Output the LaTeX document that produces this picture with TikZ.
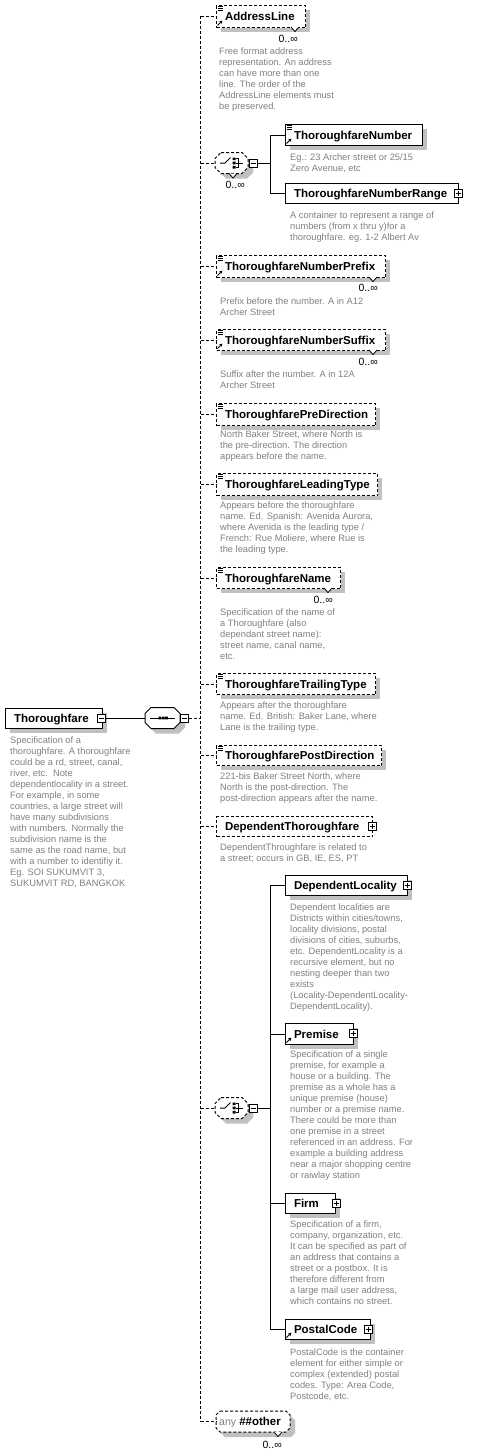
\documentclass[tikz,border=0pt]{standalone}
\usepackage{fontspec}
\setmainfont{Liberation Sans}
\usetikzlibrary{arrows.meta}
\definecolor{descgray}{RGB}{128,128,128}
\definecolor{shgray}{RGB}{192,192,192}
\newcommand{\elfont}{\fontsize{11.5}{13}\selectfont\bfseries\hyphenpenalty=10000\relax}
\newcommand{\descfont}{\fontsize{9.3}{11}\selectfont}
\newcommand{\multfont}{\fontsize{10.5}{12}\selectfont}
\tikzset{
  elbox/.style={draw=black, line width=1pt, fill=white, inner xsep=8.5pt, inner ysep=0pt, anchor=north west, align=left, font=\elfont, text height=8.5pt, text depth=0.5pt},
  opt/.style={dash pattern=on 3pt off 2pt},
  conn/.style={line width=1pt, draw=black},
  desc/.style={anchor=north west, inner sep=0pt, align=left, text=descgray, font=\descfont},
  mult/.style={anchor=east, inner sep=0pt, font=\multfont, text=black},
  pmbox/.style={draw=black, line width=1pt, fill=white, minimum size=8pt, inner sep=0pt},
  hub/.style={inner sep=0pt, draw=none},
  icon/.style={line width=0.8pt, draw=black},
}
\newcommand{\elshadow}[4]{\fill[shgray] ({#1+5},{#2+5}) rectangle ({#3+5},{#4+5});}
\newcommand{\elnode}[7]{\pgfmathsetmacro{\elTW}{#4-#2-17}\pgfmathsetmacro{\elBH}{#5-#3}\node[elbox,#6,text width=\elTW pt,minimum height=\elBH pt] (#1) at (#2,#3) {#7};}
\newcommand{\docicon}[2]{\draw[icon] ({#1+1.5},{#2+1.5}) -- ++(5,0) ({#1+1.5},{#2+3.5}) -- ++(5,0) ({#1+1.5},{#2+5.5}) -- ++(5,0);}
\newcommand{\reficon}[2]{\draw[icon,-{Triangle[length=3pt,width=3pt]}] ({#1+1.5},{#2-1.5}) -- ({#1+6.5},{#2-6.5});}
\newcommand{\notch}[2]{\filldraw[fill=white,draw=black,line width=0.8pt] ({#1-4},{#2}) -- ({#1},{#2+4.5}) -- ({#1+4},{#2});}
\newcommand{\minusicon}[3]{\node[pmbox] (#1) at (#2,#3) {}; \draw[line width=1pt] ([xshift=-2.5pt]#1.center) -- ([xshift=2.5pt]#1.center);}
\newcommand{\plusicon}[3]{\node[pmbox] (#1) at (#2,#3) {}; \draw[line width=1pt] ([xshift=-2.5pt]#1.center) -- ([xshift=2.5pt]#1.center) ([yshift=-2.5pt]#1.center) -- ([yshift=2.5pt]#1.center);}
\newcommand{\compshape}[6]{\path[#6] ({#1-#3/2+#5},{#2-#4/2}) -- ({#1+#3/2-#5},{#2-#4/2}) -- ({#1+#3/2},{#2-#4/2+#5}) -- ({#1+#3/2},{#2+#4/2-#5}) -- ({#1+#3/2-#5},{#2+#4/2}) -- ({#1-#3/2+#5},{#2+#4/2}) -- ({#1-#3/2},{#2+#4/2-#5}) -- ({#1-#3/2},{#2-#4/2+#5}) -- cycle;}
\newcommand{\choicesym}[2]{%
  \draw[line width=1pt] ({#1-11.5},{#2}) -- ({#1-6.5},{#2}) -- ({#1-1},{#2-5.5});
  \fill ({#1+1},{#2-5.5}) rectangle ++(3,2.6) ({#1+1},{#2-1.3}) rectangle ++(3,2.6) ({#1+1},{#2+2.9}) rectangle ++(3,2.6);
  \draw[line width=1pt] ({#1+4},{#2-4.2}) -- ({#1+7},{#2-4.2}) -- ({#1+7},{#2+4.2}) -- ({#1+4},{#2+4.2}) ({#1+4},{#2}) -- ({#1+11},{#2});}
\begin{document}
\begin{tikzpicture}[x=1pt,y=-1pt]
\useasboundingbox (0,0) rectangle (480,1454);

% ---------- root ----------
\elshadow{5}{708}{102}{728}
\elnode{root}{5}{708}{102}{728}{}{Thoroughfare}
\minusicon{rootm}{101.5}{718}
\node[desc] (rootd) at (10,735.6) {\strut Specification of a\\thoroughfare. A thoroughfare\\could be a rd, street, canal,\\river, etc.\ \ Note\\dependentlocality in a street.\\For example, in some\\countries, a large street will\\have many subdivisions\\with numbers. Normally the\\subdivision name is the\\same as the road name, but\\with a number to identifiy it.\\Eg. SOI SUKUMVIT 3,\\SUKUMVIT RD, BANGKOK};

% ---------- sequence ----------
\compshape{167.5}{723}{35}{21}{6}{fill=shgray}
\compshape{162.5}{718}{35}{21}{6}{fill=white,draw=black,line width=1pt}
\node[hub, minimum width=35pt, minimum height=21pt] (seq) at (162.5,718) {};
\draw[line width=1pt] (150,718) -- (175,718);
\fill (158.6,716.6) rectangle ++(2.6,2.8) (161.9,716.6) rectangle ++(2.6,2.8) (165.2,716.6) rectangle ++(2.6,2.8);
\minusicon{seqm}{184.5}{718}

% ---------- AddressLine ----------
\elshadow{216}{5}{305}{27}
\elnode{addr}{216}{5}{305}{27}{opt}{AddressLine}
\docicon{216}{5}\reficon{216}{27}\notch{295}{27}
\node[mult] (addrm) at (298,39) {0..∞};
\node[desc] (addrd) at (219,46.6) {\strut Free format address\\representation. An address\\can have more than one\\line. The order of the\\AddressLine elements must\\be preserved.};

% ---------- choice 1 ----------
\compshape{236.5}{168}{33}{21}{6}{fill=shgray}
\compshape{231.5}{163}{33}{21}{6}{fill=white,draw=black,line width=1pt,opt}
\node[hub, minimum width=33pt, minimum height=21pt] (ch1) at (231.5,163) {};
\choicesym{231.5}{163}
\notch{233}{173.5}
\minusicon{ch1m}{253.5}{163}
\node[mult] (ch1mult) at (245,185) {0..∞};

\elshadow{285}{124}{422}{145}
\elnode{tnum}{285}{124}{422}{145}{}{ThoroughfareNumber}
\docicon{285}{124}\reficon{285}{145}
\node[desc] (tnumd) at (290,152.6) {\strut Eg.: 23 Archer street or 25/15\\Zero Avenue, etc};

\elnode{tnr}{285}{183}{458}{203}{}{ThoroughfareNumberRange}
\plusicon{tnrp}{458.5}{193}
\node[desc] (tnrd) at (290,210.6) {\strut A container to represent a range of\\numbers (from x thru y)for a\\thoroughfare. eg. 1-2 Albert Av};

% ---------- Prefix ----------
\elshadow{216}{255}{385}{277}
\elnode{tpre}{216}{255}{385}{277}{opt}{ThoroughfareNumberPrefix}
\docicon{216}{255}\reficon{216}{277}\notch{373}{277}
\node[mult] (tprem) at (378,288) {0..∞};
\node[desc] (tpred) at (220,296.6) {\strut Prefix before the number. A in A12\\Archer Street};

% ---------- Suffix ----------
\elshadow{216}{329}{385}{350}
\elnode{tsuf}{216}{329}{385}{350}{opt}{ThoroughfareNumberSuffix}
\docicon{216}{329}\reficon{216}{350}\notch{373}{350}
\node[mult] (tsufm) at (378,362) {0..∞};
\node[desc] (tsufd) at (220,369.6) {\strut Suffix after the number. A in 12A\\Archer Street};

% ---------- PreDirection ----------
\elshadow{216}{403}{375}{425}
\elnode{tpredir}{216}{403}{375}{425}{opt}{ThoroughfarePreDirection}
\docicon{216}{403}
\node[desc] (tpredird) at (220,429.6) {\strut North Baker Street, where North is\\the pre-direction. The direction\\appears before the name.};

% ---------- LeadingType ----------
\elshadow{216}{473}{377}{495}
\elnode{tlead}{216}{473}{377}{495}{opt}{ThoroughfareLeadingType}
\docicon{216}{473}
\node[desc] (tleadd) at (220,500.6) {\strut Appears before the thoroughfare\\name. Ed. Spanish: Avenida Aurora,\\where Avenida is the leading type /\\French: Rue Moliere, where Rue is\\the leading type.};

% ---------- Name ----------
\elshadow{216}{567}{340}{588}
\elnode{tname}{216}{567}{340}{588}{opt}{ThoroughfareName}
\docicon{216}{567}\notch{328}{588}
\node[mult] (tnamem) at (333,600) {0..∞};
\node[desc] (tnamed) at (220,607.6) {\strut Specification of the name of\\a Thoroughfare (also\\dependant street name):\\street name, canal name,\\etc.};

% ---------- TrailingType ----------
\elshadow{216}{673}{375}{694}
\elnode{ttrail}{216}{673}{375}{694}{opt}{ThoroughfareTrailingType}
\docicon{216}{673}
\node[desc] (ttraild) at (220,700.6) {\strut Appears after the thoroughfare\\name. Ed. British: Baker Lane, where\\Lane is the trailing type.};

% ---------- PostDirection ----------
\elshadow{216}{745}{381}{765}
\elnode{tpost}{216}{745}{381}{765}{opt}{ThoroughfarePostDirection}
\docicon{216}{745}
\node[desc] (tpostd) at (220,771.6) {\strut 221-bis Baker Street North, where\\North is the post-direction. The\\post-direction appears after the name.};

% ---------- DependentThoroughfare ----------
\elnode{tdep}{216}{816}{372}{836}{opt}{DependentThoroughfare}
\plusicon{tdepp}{372}{826}
\node[desc] (tdepd) at (220,842.6) {\strut DependentThroughfare is related to\\a street; occurs in GB, IE, ES, PT};

% ---------- choice 2 ----------
\compshape{236.5}{1113}{33}{21}{6}{fill=shgray}
\compshape{231.5}{1108}{33}{21}{6}{fill=white,draw=black,line width=1pt,opt}
\node[hub, minimum width=33pt, minimum height=21pt] (ch2) at (231.5,1108) {};
\choicesym{231.5}{1108}
\minusicon{ch2m}{253.5}{1108}

\elshadow{285}{875}{407}{895}
\elnode{dloc}{285}{875}{407}{895}{}{DependentLocality}
\plusicon{dlocp}{407}{885}
\node[desc] (dlocd) at (290,902.6) {\strut Dependent localities are\\Districts within cities/towns,\\locality divisions, postal\\divisions of cities, suburbs,\\etc. DependentLocality is a\\recursive element, but no\\nesting deeper than two\\exists\\(Locality-DependentLocality-\\DependentLocality).};

\elshadow{285}{1023}{353}{1044}
\elnode{prem}{285}{1023}{353}{1044}{}{Premise}
\reficon{285}{1044}
\plusicon{premp}{353.5}{1033.5}
\node[desc] (premd) at (290,1049.6) {\strut Specification of a single\\premise, for example a\\house or a building. The\\premise as a whole has a\\unique premise (house)\\number or a premise name.\\There could be more than\\one premise in a street\\referenced in an address. For\\example a building address\\near a major shopping centre\\or raiwlay station};

\elshadow{285}{1193}{335}{1213}
\elnode{firm}{285}{1193}{335}{1213}{}{Firm}
\plusicon{firmp}{336}{1203}
\node[desc] (firmd) at (290,1219.6) {\strut Specification of a firm,\\company, organization, etc.\\It can be specified as part of\\an address that contains a\\street or a postbox. It is\\therefore different from\\a large mail user address,\\which contains no street.};

\elshadow{285}{1319}{370}{1339}
\elnode{pcode}{285}{1319}{370}{1339}{}{PostalCode}
\reficon{285}{1339}
\plusicon{pcodep}{368}{1329}
\node[desc] (pcoded) at (290,1347.6) {\strut PostalCode is the container\\element for either simple or\\complex (extended) postal\\codes. Type: Area Code,\\Postcode, etc.};

% ---------- any ##other ----------
\compshape{258}{1426.5}{74}{21}{4}{fill=shgray}
\compshape{253}{1421.5}{74}{21}{4}{fill=white,draw=black,line width=1pt,opt}
\node[hub, minimum width=74pt, minimum height=21pt] (anyo) at (253,1421.5) {};
\node[anchor=west, inner sep=0pt, font=\elfont, text height=8.5pt, text depth=0.5pt] (anyt) at (219,1421.5) {{\mdseries\color{descgray}\fontsize{10.5}{12}\selectfont any} \#\#other};
\notch{278}{1432}
\node[mult] (anym) at (282,1445) {0..∞};

% ---------- connectors ----------
\coordinate (busT) at (200.5,16);
\coordinate (busB) at (200.5,1421.5);
\draw[conn] (rootm.east) -- (seq.west);
\draw[conn,opt] (seqm.east) -- (busT |- seqm.east);
\draw[conn,opt] (busT) -- (busB);
\foreach \n in {addr,ch1,tpre,tsuf,tpredir,tlead,tname,ttrail,tpost,tdep,ch2,anyo}
  \draw[conn,opt] (busT |- \n.west) -- (\n.west);

\coordinate (c1j) at (270,163);
\draw[conn] (ch1m.east) -- (c1j);
\draw[conn] (tnum.west) -| (c1j |- tnr.west) -- (tnr.west);

\coordinate (c2j) at (270,1108);
\draw[conn] (ch2m.east) -- (c2j);
\draw[conn] (dloc.west) -| (c2j |- pcode.west) -- (pcode.west);
\draw[conn] (c2j |- prem.west) -- (prem.west);
\draw[conn] (c2j |- firm.west) -- (firm.west);
\end{tikzpicture}
\end{document}
